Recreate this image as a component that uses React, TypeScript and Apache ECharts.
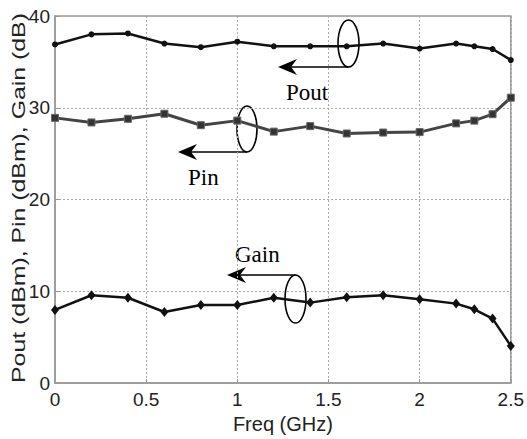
import React, { useEffect, useRef } from "react";
import * as echarts from "echarts";

const freq = [0, 0.2, 0.4, 0.6, 0.8, 1.0, 1.2, 1.4, 1.6, 1.8, 2.0, 2.2, 2.3, 2.4, 2.5];
const pout = [36.9, 38.0, 38.1, 37.0, 36.6, 37.2, 36.7, 36.7, 36.7, 37.0, 36.45, 37.0, 36.7, 36.4, 35.2];
const pin = [28.9, 28.4, 28.8, 29.35, 28.1, 28.6, 27.4, 28.0, 27.2, 27.3, 27.35, 28.3, 28.6, 29.3, 31.1];
const gain = [7.97, 9.57, 9.3, 7.75, 8.5, 8.5, 9.3, 8.77, 9.35, 9.57, 9.13, 8.66, 8.04, 7.03, 4.05];

const xTitle = "Freq (GHz)";
const yTitle = "Pout (dBm), Pin (dBm), Gain (dB)";

const pairs = (ys: number[]) => freq.map((x, i) => [x, ys[i]]);

const arrow = (tipX: number, y: number, fromX: number) => [
  {
    type: "line",
    shape: { x1: tipX + 12, y1: y, x2: fromX, y2: y },
    style: { stroke: "#000", lineWidth: 1.5 },
    silent: true,
  },
  {
    type: "polygon",
    shape: { points: [[tipX, y], [tipX + 19, y - 8], [tipX + 13, y], [tipX + 19, y + 8]] },
    style: { fill: "#000" },
    silent: true,
  },
];

const ellipse = (cx: number, cy: number, rx: number, ry: number) => ({
  type: "ellipse",
  shape: { cx, cy, rx, ry },
  style: { fill: "none", stroke: "#000", lineWidth: 1.6 },
  silent: true,
});

const label = (text: string, x: number, y: number) => ({
  type: "text",
  x,
  y,
  style: {
    text,
    fill: "#000",
    font: '23px "Liberation Serif", "Times New Roman", serif',
    align: "left",
    verticalAlign: "middle",
  },
  silent: true,
});

export default function App() {
  const ref = useRef<HTMLDivElement>(null);
  useEffect(() => {
    document.body.style.margin = "0";
    if (!ref.current) return;
    const chart = echarts.init(ref.current, undefined, { renderer: "svg" });
    const axisFont = { fontFamily: '"Liberation Sans", Arial, sans-serif', fontSize: 19, color: "#222" };
    chart.setOption({
      animation: false,
      backgroundColor: "#fff",
      grid: { left: 55, right: 16, top: 16, bottom: 55, show: true, borderColor: "#999", borderWidth: 1.5, backgroundColor: "transparent" },
      xAxis: {
        type: "value",
        min: 0,
        max: 2.5,
        interval: 0.5,
        name: xTitle,
        nameLocation: "middle",
        nameGap: 30,
        nameTextStyle: { ...axisFont, fontSize: 20 },
        axisLine: { show: true, lineStyle: { color: "#999", width: 1.5 } },
        axisTick: { show: true, inside: true, length: 4, lineStyle: { color: "#999" } },
        axisLabel: { ...axisFont, margin: 7, formatter: (v: number) => String(v) },
        splitLine: { show: true, lineStyle: { color: "#aaa", type: [2, 2], width: 1 } },
      },
      yAxis: {
        type: "value",
        min: 0,
        max: 40,
        interval: 10,
        axisLine: { show: true, lineStyle: { color: "#999", width: 1.5 } },
        axisTick: { show: true, inside: true, length: 4, lineStyle: { color: "#999" } },
        axisLabel: { ...axisFont, margin: 5 },
        splitLine: { show: true, lineStyle: { color: "#aaa", type: [2, 2], width: 1 } },
      },
      series: [
        {
          name: "Pout",
          type: "line",
          data: pairs(pout),
          symbol: "circle",
          symbolSize: 6,
          lineStyle: { color: "#111", width: 2.5 },
          itemStyle: { color: "#111" },
        },
        {
          name: "Pin",
          type: "line",
          data: pairs(pin),
          symbol: "rect",
          symbolSize: 7,
          lineStyle: { color: "#444", width: 3 },
          itemStyle: { color: "#333", borderColor: "#666", borderWidth: 1 },
        },
        {
          name: "Gain",
          type: "line",
          data: pairs(gain),
          symbol: "diamond",
          symbolSize: [8, 10],
          lineStyle: { color: "#111", width: 2.5 },
          itemStyle: { color: "#111" },
        },
      ],
      graphic: [
        {
          type: "text",
          x: 19,
          y: 198,
          rotation: Math.PI / 2,
          scaleX: 1.38,
          style: {
            text: yTitle,
            fill: "#222",
            font: '18px "Liberation Sans", Arial, sans-serif',
            align: "center",
            verticalAlign: "middle",
          },
          silent: true,
        },
        ellipse(348.5, 43.5, 10.5, 23.5),
        ...arrow(278, 67, 348.5),
        label("Pout", 286, 92),
        ellipse(247, 129, 10, 23),
        ...arrow(178, 152, 247),
        label("Pin", 188, 177),
        ellipse(295.5, 299, 10.5, 24),
        ...arrow(227, 275, 295.5),
        label("Gain", 235, 254),
      ],
    });
    return () => chart.dispose();
  }, []);
  return <div ref={ref} style={{ width: 527, height: 439 }} />;
}
